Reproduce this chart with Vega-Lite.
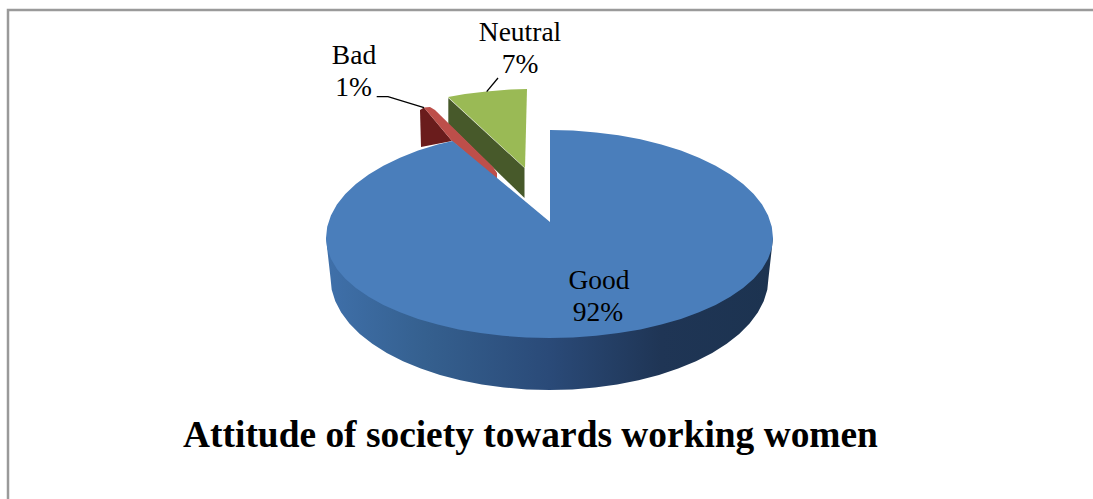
{
"$schema":"https://vega.github.io/schema/vega-lite/v6.json",
"width":1093,"height":499,"padding":0,"autosize":"none","background":"#ffffff",
"config":{"view":{"stroke":null}},
"datasets":{
"frame":[{"seq":1,"x":-541.5,"v":-265},{"seq":2,"x":-541.5,"v":224},{"seq":3,"x":543.5,"v":224}],
"good_side":[{"seq":1,"x":223.5,"v":-4},{"seq":2,"x":219,"v":-44},{"seq":3,"x":217.8,"v":-55.7},{"seq":4,"x":214.2,"v":-67.3},{"seq":5,"x":208.3,"v":-78.6},{"seq":6,"x":200.1,"v":-89.6},{"seq":7,"x":189.7,"v":-100},{"seq":8,"x":177.2,"v":-109.8},{"seq":9,"x":162.7,"v":-118.9},{"seq":10,"x":146.5,"v":-127.2},{"seq":11,"x":128.7,"v":-134.6},{"seq":12,"x":109.5,"v":-141},{"seq":13,"x":89.1,"v":-146.3},{"seq":14,"x":67.7,"v":-150.5},{"seq":15,"x":45.5,"v":-153.5},{"seq":16,"x":22.9,"v":-155.4},{"seq":17,"x":0,"v":-156},{"seq":18,"x":-22.9,"v":-155.4},{"seq":19,"x":-45.5,"v":-153.5},{"seq":20,"x":-67.7,"v":-150.5},{"seq":21,"x":-89.1,"v":-146.3},{"seq":22,"x":-109.5,"v":-141},{"seq":23,"x":-128.7,"v":-134.6},{"seq":24,"x":-146.5,"v":-127.2},{"seq":25,"x":-162.7,"v":-118.9},{"seq":26,"x":-177.2,"v":-109.8},{"seq":27,"x":-189.7,"v":-100},{"seq":28,"x":-200.1,"v":-89.6},{"seq":29,"x":-208.3,"v":-78.6},{"seq":30,"x":-214.2,"v":-67.3},{"seq":31,"x":-217.8,"v":-55.7},{"seq":32,"x":-219,"v":-44},{"seq":33,"x":-223.5,"v":-4}],
"bad_side":[{"seq":1,"x":-129.5,"v":124},{"seq":2,"x":-125.5,"v":126.5},{"seq":3,"x":-97.5,"v":93},{"seq":4,"x":-128.5,"v":87}],
"neutral_side":[{"seq":1,"x":-101.2,"v":136},{"seq":2,"x":-25,"v":66},{"seq":3,"x":-25,"v":36},{"seq":4,"x":-101.2,"v":110}],
"neutral_top":[{"seq":1,"x":-101.5,"v":137},{"seq":2,"x":-84.5,"v":140},{"seq":3,"x":-63,"v":142.5},{"seq":4,"x":-39.5,"v":144.5},{"seq":5,"x":-22.5,"v":145},{"seq":6,"x":-24.5,"v":66}],
"bad_top":[{"seq":1,"x":-125.5,"v":126.5},{"seq":2,"x":-119.5,"v":127},{"seq":3,"x":-114.5,"v":124},{"seq":4,"x":-56.5,"v":67},{"seq":5,"x":-52.5,"v":61},{"seq":6,"x":-52.5,"v":54},{"seq":7,"x":-97.5,"v":93}],
"good_top":[{"seq":1,"x":0.5,"v":12},{"seq":2,"x":0.5,"v":104},{"seq":3,"x":23.4,"v":103.4},{"seq":4,"x":46.5,"v":101.6},{"seq":5,"x":69.1,"v":98.7},{"seq":6,"x":90.9,"v":94.7},{"seq":7,"x":111.8,"v":89.5},{"seq":8,"x":131.4,"v":83.4},{"seq":9,"x":149.5,"v":76.3},{"seq":10,"x":166.1,"v":68.3},{"seq":11,"x":180.8,"v":59.5},{"seq":12,"x":193.6,"v":50},{"seq":13,"x":204.2,"v":39.9},{"seq":14,"x":212.6,"v":29.4},{"seq":15,"x":218.6,"v":18.5},{"seq":16,"x":222.3,"v":7.3},{"seq":17,"x":223.5,"v":-4},{"seq":18,"x":222.3,"v":-14.5},{"seq":19,"x":218.6,"v":-24.8},{"seq":20,"x":212.6,"v":-34.9},{"seq":21,"x":204.2,"v":-44.7},{"seq":22,"x":193.6,"v":-54},{"seq":23,"x":180.8,"v":-62.8},{"seq":24,"x":166.1,"v":-70.9},{"seq":25,"x":149.5,"v":-78.3},{"seq":26,"x":131.4,"v":-84.9},{"seq":27,"x":111.8,"v":-90.6},{"seq":28,"x":90.9,"v":-95.4},{"seq":29,"x":69.1,"v":-99.1},{"seq":30,"x":46.5,"v":-101.8},{"seq":31,"x":23.4,"v":-103.5},{"seq":32,"x":0,"v":-104},{"seq":33,"x":-23.4,"v":-103.5},{"seq":34,"x":-46.5,"v":-101.8},{"seq":35,"x":-69.1,"v":-99.1},{"seq":36,"x":-90.9,"v":-95.4},{"seq":37,"x":-111.8,"v":-90.6},{"seq":38,"x":-131.4,"v":-84.9},{"seq":39,"x":-149.5,"v":-78.3},{"seq":40,"x":-166.1,"v":-70.9},{"seq":41,"x":-180.8,"v":-62.8},{"seq":42,"x":-193.6,"v":-54},{"seq":43,"x":-204.2,"v":-44.7},{"seq":44,"x":-212.6,"v":-34.9},{"seq":45,"x":-218.6,"v":-24.8},{"seq":46,"x":-222.3,"v":-14.5},{"seq":47,"x":-223.5,"v":-4},{"seq":48,"x":-222.3,"v":7.3},{"seq":49,"x":-218.6,"v":18.5},{"seq":50,"x":-212.6,"v":29.4},{"seq":51,"x":-204.2,"v":39.9},{"seq":52,"x":-193.6,"v":50},{"seq":53,"x":-180.8,"v":59.5},{"seq":54,"x":-166.1,"v":68.3},{"seq":55,"x":-149.5,"v":76.3},{"seq":56,"x":-131.4,"v":83.4},{"seq":57,"x":-111.8,"v":89.5},{"seq":58,"x":-97,"v":93}],
"leader_bad":[{"seq":1,"x":-172.8,"v":137.3},{"seq":2,"x":-161.5,"v":137.3},{"seq":3,"x":-125.5,"v":126.3}],
"leader_neutral":[{"seq":1,"x":-51.5,"v":156},{"seq":2,"x":-62.8,"v":142.3}],
"labels":[{"label":"Neutral","x":-29.5,"v":193},{"label":"7%","x":-29.5,"v":161},{"label":"Bad","x":-195.5,"v":170},{"label":"1%","x":-196,"v":138},{"label":"Good","x":49.5,"v":-55},{"label":"92%","x":48.5,"v":-87}],
"heading":[{"label":"Attitude of society towards working women","x":-19,"v":-213}]
},
"encoding":{
"x":{"field":"x","type":"quantitative","axis":null,"scale":{"domain":[-549.5,543.5],"nice":false,"zero":false}},
"y":{"field":"v","type":"quantitative","axis":null,"scale":{"domain":[-265,234],"nice":false,"zero":false}}
},
"layer":[
{"data":{"name":"frame"},"mark":{"type":"line","stroke":"#9a9a9a","strokeWidth":2.5},"encoding":{"order":{"field":"seq"}}},
{"data":{"name":"good_side"},"mark":{"type":"line","filled":true,"strokeWidth":0,"fill":{"x1":0,"y1":0,"x2":1,"y2":0,"gradient":"linear","stops":[{"offset":0,"color":"#3f70aa"},{"offset":0.22,"color":"#35608f"},{"offset":0.5,"color":"#2a4a78"},{"offset":0.75,"color":"#1f3555"},{"offset":1,"color":"#1c3350"}]}},"encoding":{"order":{"field":"seq"}}},
{"data":{"name":"bad_side"},"mark":{"type":"line","filled":true,"strokeWidth":0,"fill":"#6a1c1c"},"encoding":{"order":{"field":"seq"}}},
{"data":{"name":"neutral_side"},"mark":{"type":"line","filled":true,"strokeWidth":0,"fill":"#47592a"},"encoding":{"order":{"field":"seq"}}},
{"data":{"name":"neutral_top"},"mark":{"type":"line","filled":true,"strokeWidth":0,"fill":"#9aba55"},"encoding":{"order":{"field":"seq"}}},
{"data":{"name":"bad_top"},"mark":{"type":"line","filled":true,"strokeWidth":0,"fill":"#bd4f4a"},"encoding":{"order":{"field":"seq"}}},
{"data":{"name":"good_top"},"mark":{"type":"line","filled":true,"strokeWidth":0,"fill":"#4a7ebb"},"encoding":{"order":{"field":"seq"}}},
{"data":{"name":"leader_bad"},"mark":{"type":"line","stroke":"#000000","strokeWidth":1.3},"encoding":{"order":{"field":"seq"}}},
{"data":{"name":"leader_neutral"},"mark":{"type":"line","stroke":"#000000","strokeWidth":1.3},"encoding":{"order":{"field":"seq"}}},
{"data":{"name":"labels"},"mark":{"type":"text","font":"Liberation Serif","fontSize":27.5,"align":"center","baseline":"alphabetic","color":"#000000"},"encoding":{"text":{"field":"label"}}},
{"data":{"name":"heading"},"mark":{"type":"text","font":"Liberation Serif","fontSize":37.4,"fontWeight":"bold","align":"center","baseline":"alphabetic","color":"#000000"},"encoding":{"text":{"field":"label"}}}
]
}
